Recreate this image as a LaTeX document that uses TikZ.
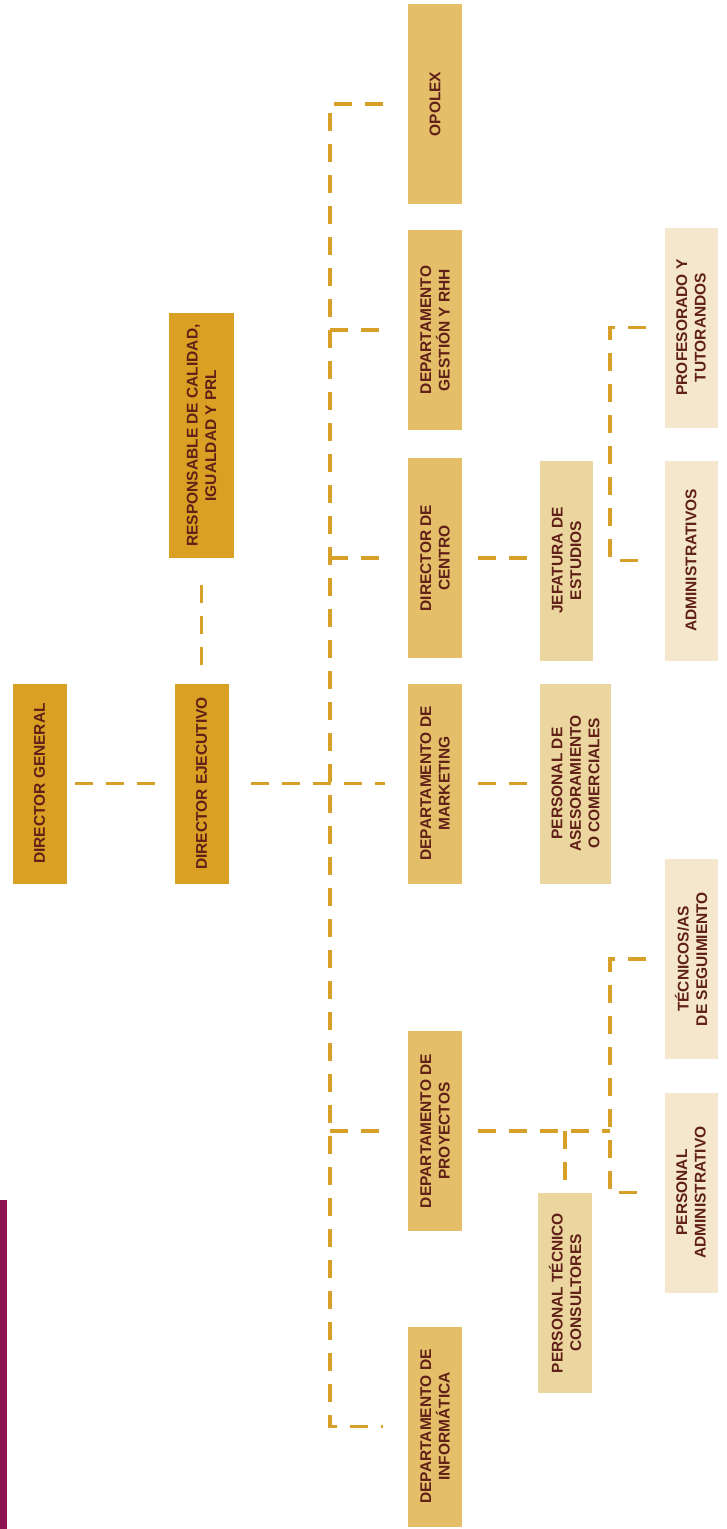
\documentclass[tikz,border=0pt]{standalone}
\usepackage{fontspec}
\setmainfont{Liberation Sans}
\usetikzlibrary{calc}
\definecolor{oro}{RGB}{218,160,35}
\definecolor{dorado}{RGB}{228,190,105}
\definecolor{arena}{RGB}{236,214,160}
\definecolor{crema}{RGB}{244,231,206}
\definecolor{linea}{RGB}{215,160,40}
\definecolor{texto}{RGB}{96,32,24}
\definecolor{vino}{RGB}{140,20,80}

\begin{document}
\begin{tikzpicture}[x=1pt,y=-1pt,
  caja/.style={rotate=90,minimum width=200pt,minimum height=54pt,inner sep=2pt,align=center,
    text=texto,font=\bfseries\fontsize{15.5}{18.5}\selectfont},
  nivel1/.style={caja,fill=oro},
  nivel2/.style={caja,fill=dorado},
  nivel3/.style={caja,fill=arena},
  nivel4/.style={caja,fill=crema},
  link/.style={draw=linea,line width=3.2pt,dash pattern=on 18pt off 13pt}]
\useasboundingbox (0,0) rectangle (726,1529);
\fill[vino] (0,1200) rectangle (7,1529);
% direccion
\node[nivel1] (dg) at (39.5,783.5) {DIRECTOR GENERAL};
\node[nivel1] (de) at (201.5,783.5) {DIRECTOR EJECUTIVO};
\node[nivel1,minimum width=245pt,minimum height=65pt] (rc) at (201.5,435.5) {RESPONSABLE DE CALIDAD,\\ IGUALDAD Y PRL};
% departamentos
\node[nivel2] (opx) at (435,104) {OPOLEX};
\node[nivel2] (gst) at (435,330) {DEPARTAMENTO\\ GESTIÓN Y RHH};
\node[nivel2] (cen) at (435,558) {DIRECTOR DE\\ CENTRO};
\node[nivel2] (mkt) at (435,783.5) {DEPARTAMENTO DE\\ MARKETING};
\node[nivel2] (pry) at (435,1131) {DEPARTAMENTO DE\\ PROYECTOS};
\node[nivel2] (inf) at (435,1426.5) {DEPARTAMENTO DE\\ INFORMÁTICA};
% personal
\node[nivel3,minimum height=53pt] (jef) at (566.5,560.5) {JEFATURA DE\\ ESTUDIOS};
\node[nivel3,minimum height=71pt] (ase) at (575.5,783.5) {PERSONAL DE\\ ASESORAMIENTO\\ O COMERCIALES};
\node[nivel3] (pt) at (565,1293) {PERSONAL TÉCNICO\\ CONSULTORES};
\node[nivel4,minimum height=53pt] (prof) at (691,327.5) {PROFESORADO Y\\ TUTORANDOS};
\node[nivel4,minimum height=53pt] (adm) at (691,560.5) {ADMINISTRATIVOS};
\node[nivel4,minimum height=53pt] (tec) at (691,959) {TÉCNICOS/AS\\ DE SEGUIMIENTO};
\node[nivel4,minimum height=53pt] (pad) at (691,1192.5) {PERSONAL\\ ADMINISTRATIVO};
\coordinate (bus) at (330,0);
\coordinate (jbus) at (610,0);
\coordinate (pbus) at (610,0);
% conexiones
\draw[link,shorten <=8pt,shorten >=15pt] (dg.south) -- (de.north);
\draw[link,shorten <=18pt,shorten >=22pt] (de.east) -- (rc.west);
\draw[link,shorten <=22pt,shorten >=23pt] (de.south) -- (mkt.north);
\draw[link,shorten <=25pt,shorten >=25pt] (opx.north) -- (opx.north -| bus) -- (inf.north -| bus) -- (inf.north);
\draw[link,shorten >=23pt] (gst.north -| bus) -- (gst.north);
\draw[link,shorten >=23pt] (cen.north -| bus) -- (cen.north);
\draw[link,shorten >=23pt] (pry.north -| bus) -- (pry.north);
\draw[link,shorten <=16pt,shorten >=10pt] (cen.south) -- (cen.south -| jef.north);
\draw[link,shorten <=16pt,shorten >=10pt] (mkt.south) -- (ase.north);
\draw[link,shorten <=18pt,shorten >=18pt] (prof.north) -- (prof.north -| jbus) -- (adm.north -| jbus) -- (adm.north);
\draw[link,shorten <=16pt] (pry.south) -- (pry.south -| pbus);
\draw[link,shorten >=10pt] (pt.east |- pry.south) -- (pt.east);
\draw[link,shorten <=18pt,shorten >=18pt] (tec.north) -- (tec.north -| pbus) -- (pad.north -| pbus) -- (pad.north);
\end{tikzpicture}
\end{document}
